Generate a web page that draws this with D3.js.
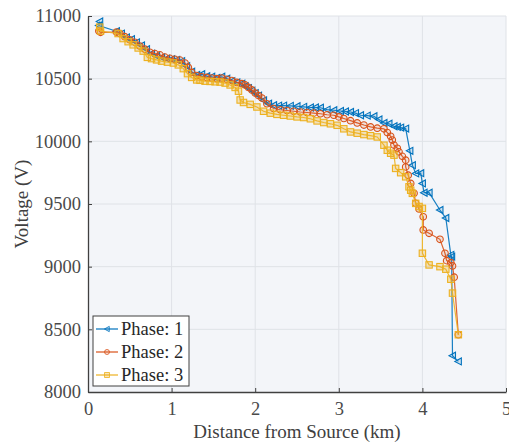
<!DOCTYPE html>
<html>
<head>
<meta charset="utf-8">
<script src="https://cdn.jsdelivr.net/npm/d3@7"></script>
<style>
  body { margin: 0; background: #fff; }
</style>
</head>
<body>
<div id="chart"></div>
<script>
// Phase 1 (blue, left triangles)
const dist1 = [0.14, 0.13, 0.34, 0.40, 0.46, 0.52, 0.58, 0.64, 0.70, 0.76, 0.82, 0.88, 0.94, 1.00, 1.06, 1.12, 1.18, 1.24, 1.30, 1.36, 1.42, 1.48, 1.54, 1.60, 1.66, 1.72, 1.78, 1.84, 1.88, 1.92, 1.96, 2.00, 2.04, 2.10, 2.16, 2.22, 2.28, 2.34, 2.42, 2.50, 2.58, 2.66, 2.72, 2.78, 2.86, 2.94, 3.02, 3.08, 3.14, 3.20, 3.26, 3.34, 3.42, 3.48, 3.54, 3.60, 3.66, 3.70, 3.74, 3.80, 3.85, 3.88, 3.92, 3.98, 4.00, 4.02, 4.08, 4.21, 4.28, 4.34, 4.35, 4.36, 4.43];
const volt1 = [10956, 10924, 10878, 10860, 10830, 10815, 10790, 10765, 10735, 10700, 10680, 10670, 10660, 10655, 10650, 10640, 10600, 10555, 10530, 10535, 10520, 10515, 10505, 10515, 10500, 10480, 10470, 10460, 10440, 10425, 10405, 10385, 10365, 10327, 10300, 10288, 10285, 10285, 10283, 10280, 10275, 10270, 10270, 10268, 10253, 10248, 10242, 10238, 10234, 10225, 10208, 10205, 10200, 10175, 10147, 10140, 10120, 10115, 10110, 10102, 9924, 9810, 9744, 9746, 9664, 9590, 9590, 9452, 9388, 9094, 9080, 8290, 8244];

// Phase 2 (orange, circles)
const dist2 = [0.13, 0.15, 0.34, 0.38, 0.44, 0.50, 0.56, 0.62, 0.68, 0.74, 0.80, 0.86, 0.92, 0.98, 1.04, 1.10, 1.16, 1.20, 1.24, 1.30, 1.36, 1.42, 1.48, 1.54, 1.60, 1.66, 1.72, 1.78, 1.84, 1.88, 1.92, 1.96, 2.00, 2.04, 2.08, 2.14, 2.22, 2.30, 2.38, 2.46, 2.54, 2.62, 2.70, 2.78, 2.86, 2.94, 3.00, 3.06, 3.14, 3.22, 3.30, 3.38, 3.46, 3.54, 3.58, 3.62, 3.64, 3.66, 3.70, 3.72, 3.76, 3.80, 3.80, 3.83, 3.86, 3.90, 3.92, 3.96, 4.01, 4.01, 4.08, 4.21, 4.27, 4.29, 4.34, 4.36, 4.38, 4.43];
const volt2 = [10880, 10870, 10872, 10860, 10835, 10810, 10790, 10760, 10735, 10710, 10700, 10690, 10672, 10662, 10655, 10648, 10625, 10590, 10550, 10525, 10515, 10510, 10505, 10500, 10505, 10495, 10485, 10470, 10460, 10450, 10430, 10410, 10385, 10365, 10345, 10300, 10262, 10252, 10246, 10240, 10234, 10230, 10225, 10220, 10212, 10208, 10195, 10182, 10165, 10147, 10130, 10115, 10105, 10100, 10070, 10040, 10010, 9970, 9945, 9916, 9880, 9850, 9796, 9730, 9664, 9585, 9505, 9460, 9398, 9293, 9266, 9218, 9107, 9048, 9032, 9006, 8916, 8457];

// Phase 3 (yellow, squares)
const dist3 = [0.14, 0.15, 0.36, 0.42, 0.48, 0.54, 0.60, 0.66, 0.71, 0.76, 0.82, 0.88, 0.95, 1.02, 1.08, 1.14, 1.19, 1.24, 1.30, 1.34, 1.40, 1.46, 1.52, 1.58, 1.64, 1.70, 1.76, 1.80, 1.82, 1.86, 1.94, 2.02, 2.10, 2.18, 2.26, 2.34, 2.42, 2.50, 2.58, 2.66, 2.74, 2.82, 2.90, 2.98, 3.06, 3.14, 3.22, 3.30, 3.38, 3.46, 3.54, 3.58, 3.62, 3.66, 3.68, 3.74, 3.80, 3.84, 3.86, 3.88, 3.92, 3.96, 4.00, 4.00, 4.08, 4.21, 4.28, 4.34, 4.36, 4.43];
const volt3 = [10911, 10880, 10860, 10820, 10795, 10770, 10745, 10720, 10670, 10660, 10650, 10640, 10632, 10625, 10610, 10580, 10540, 10510, 10490, 10487, 10480, 10478, 10475, 10473, 10465, 10450, 10430, 10400, 10330, 10310, 10295, 10274, 10240, 10225, 10215, 10208, 10202, 10195, 10190, 10180, 10163, 10150, 10140, 10128, 10100, 10075, 10065, 10054, 10045, 10035, 9969, 9929, 9905, 9890, 9784, 9750, 9717, 9637, 9610, 9585, 9505, 9480, 9465, 9107, 9014, 9000, 8980, 8900, 8789, 8457];

const xTicks = [0, 1, 2, 3, 4, 5];
const yTicks = [8000, 8500, 9000, 9500, 10000, 10500, 11000];
const phaseNames = ["Phase: 1", "Phase: 2", "Phase: 3"];
const phaseColors = ["#0072BD", "#D95319", "#EDB120"];

const FONT = "Liberation Serif";
const width = 509, height = 446;
const margin = {top: 16, right: 3, bottom: 54, left: 88};
const innerW = width - margin.left - margin.right;
const innerH = height - margin.top - margin.bottom;

const svg = d3.select("#chart").append("svg")
    .attr("width", width)
    .attr("height", height)
    .attr("font-family", FONT);

const g = svg.append("g")
    .attr("transform", `translate(${margin.left},${margin.top})`);

const x = d3.scaleLinear().domain([0, 5]).range([0, innerW]);
const y = d3.scaleLinear().domain([8000, 11000]).range([innerH, 0]);

// plot background
g.append("rect")
    .attr("width", innerW)
    .attr("height", innerH)
    .attr("fill", "#f3f5f9");

// grid
g.append("g").selectAll("line")
    .data(xTicks.slice(1))
    .join("line")
    .attr("x1", d => x(d)).attr("x2", d => x(d))
    .attr("y1", 0).attr("y2", innerH)
    .attr("stroke", "#dfe2e7").attr("stroke-width", 1);

g.append("g").selectAll("line")
    .data(yTicks.slice(1))
    .join("line")
    .attr("x1", 0).attr("x2", innerW)
    .attr("y1", d => y(d)).attr("y2", d => y(d))
    .attr("stroke", "#dfe2e7").attr("stroke-width", 1);

// axes
const xAxis = g.append("g")
    .attr("transform", `translate(0,${innerH})`)
    .call(d3.axisBottom(x).tickValues(xTicks).tickSizeInner(-4).tickSizeOuter(0).tickPadding(10).tickFormat(d3.format("d")));
const yAxis = g.append("g")
    .call(d3.axisLeft(y).tickValues(yTicks).tickSizeInner(-4).tickSizeOuter(0).tickPadding(7).tickFormat(d3.format("d")));

[xAxis, yAxis].forEach(ax => {
    ax.attr("font-family", FONT).attr("font-size", 18.5);
    ax.select(".domain").attr("stroke", "#404040").attr("stroke-width", 1.3);
    ax.selectAll(".tick line").attr("stroke", "#404040");
    ax.selectAll(".tick text").attr("fill", "#4a4a4a");
});

// axis labels
svg.append("text")
    .attr("x", margin.left + innerW / 2)
    .attr("y", 438)
    .attr("text-anchor", "middle")
    .attr("fill", "#404040")
    .attr("font-size", 19)
    .text("Distance from Source (km)");

svg.append("text")
    .attr("transform", `translate(28,${margin.top + innerH / 2}) rotate(-90)`)
    .attr("text-anchor", "middle")
    .attr("fill", "#404040")
    .attr("font-size", 19)
    .text("Voltage (V)");

// series
const series = [
    {name: phaseNames[0], color: phaseColors[0], shape: "tri", pts: dist1.map((d, i) => [d, volt1[i]])},
    {name: phaseNames[1], color: phaseColors[1], shape: "circle", pts: dist2.map((d, i) => [d, volt2[i]])},
    {name: phaseNames[2], color: phaseColors[2], shape: "square", pts: dist3.map((d, i) => [d, volt3[i]])}
];

const line = d3.line().x(d => x(d[0])).y(d => y(d[1]));

function drawMarker(sel, shape, color) {
    if (shape === "tri") {
        sel.append("path")
            .attr("d", "M-3.5,0 L3,-3.5 L3,3.5 Z")
            .attr("fill", color).attr("fill-opacity", 0.15)
            .attr("stroke", color).attr("stroke-width", 1.1);
    } else if (shape === "circle") {
        sel.append("circle").attr("r", 3.3)
            .attr("fill", color).attr("fill-opacity", 0.12)
            .attr("stroke", color).attr("stroke-width", 1.1);
    } else {
        sel.append("rect").attr("x", -3.2).attr("y", -3.2).attr("width", 6.4).attr("height", 6.4)
            .attr("fill", color).attr("fill-opacity", 0.3)
            .attr("stroke", color).attr("stroke-width", 1.1);
    }
}

const plot = g.append("g");
series.forEach(s => {
    plot.append("path")
        .datum(s.pts)
        .attr("d", line)
        .attr("fill", "none")
        .attr("stroke", s.color)
        .attr("stroke-width", 1.2)
        .attr("stroke-opacity", 0.9);

    plot.append("g").selectAll("g")
        .data(s.pts)
        .join("g")
        .attr("transform", d => `translate(${x(d[0])},${y(d[1])})`)
        .each(function() { drawMarker(d3.select(this), s.shape, s.color); });
});

// legend
const legend = svg.append("g").attr("transform", "translate(93,316)");
legend.append("rect")
    .attr("width", 96).attr("height", 70)
    .attr("fill", "#fff").attr("stroke", "#404040").attr("stroke-width", 1);

series.forEach((s, i) => {
    const row = legend.append("g").attr("transform", `translate(0,${13 + i * 23})`);
    row.append("line")
        .attr("x1", 3).attr("x2", 25)
        .attr("stroke", s.color).attr("stroke-width", 1.2);
    row.append("g").attr("transform", "translate(14,0) scale(0.75)")
        .call(sel => drawMarker(sel, s.shape, s.color));
    row.append("text")
        .attr("x", 28).attr("y", 0)
        .attr("dy", "0.35em")
        .attr("fill", "#262626")
        .attr("font-size", 18.5)
        .text(s.name);
});
</script>
</body>
</html>
